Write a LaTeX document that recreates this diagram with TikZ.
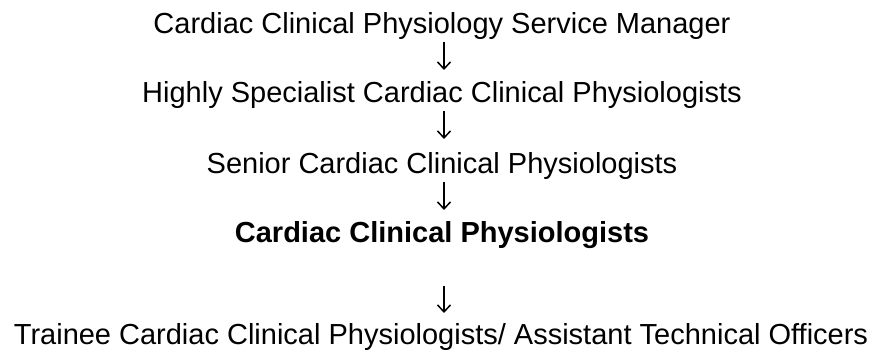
\documentclass[tikz,border=0pt]{standalone}
\usepackage{fontspec}
\setmainfont{Liberation Sans}
\usetikzlibrary{arrows.meta}
\begin{document}
\begin{tikzpicture}[x=1pt,y=1pt,
  lvl/.style={anchor=base,inner sep=0pt,font=\fontsize{29}{34}\selectfont},
  arr/.style={line width=1.5pt,-{Straight Barb[length=7pt,width=13pt,line width=1.5pt]}}]
\useasboundingbox (0,0) rectangle (881,-352);
\node[lvl] (L1) at (442,-34) {Cardiac Clinical Physiology Service Manager};
\node[lvl] (L2) at (442,-103) {Highly Specialist Cardiac Clinical Physiologists};
\node[lvl] (L3) at (442,-174) {Senior Cardiac Clinical Physiologists};
\node[lvl,font=\fontsize{29}{34}\selectfont\bfseries] (L4) at (442,-243) {Cardiac Clinical Physiologists};
\node[lvl] (L5) at (441,-345) {Trainee Cardiac Clinical Physiologists/ Assistant Technical Officers};
\draw[arr] ([xshift=2pt,yshift=-8pt]L1.base) -- ([xshift=2pt,yshift=33pt]L2.base);
\draw[arr] ([xshift=2pt,yshift=-8pt]L2.base) -- ([xshift=2pt,yshift=35pt]L3.base);
\draw[arr] ([xshift=2pt,yshift=-8pt]L3.base) -- ([xshift=2pt,yshift=33pt]L4.base);
\draw[arr] ([xshift=2pt,yshift=-43pt]L4.base) -- ([xshift=3pt,yshift=32pt]L5.base);
\end{tikzpicture}
\end{document}
